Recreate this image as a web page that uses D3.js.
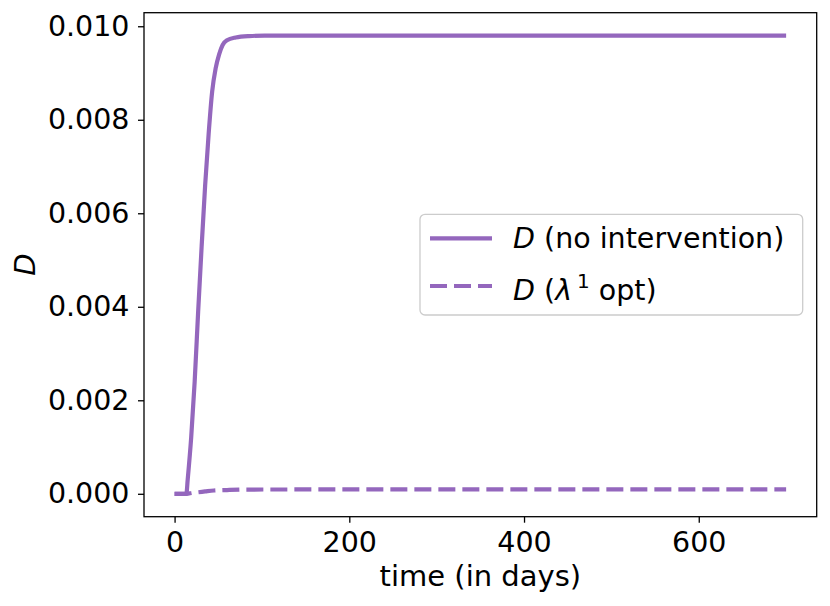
<!DOCTYPE html>
<html>
<head>
<meta charset="utf-8">
<script src="https://cdn.jsdelivr.net/npm/d3@7"></script>
<style>
  body { margin: 0; background: #fff; }
  text { font-family: "DejaVu Sans", sans-serif; fill: #000; }
</style>
</head>
<body>
<div id="chart"></div>
<script>
// values
const tNoInt = [0, 13.5, 15, 19, 23, 27, 31, 35, 39, 43, 47, 51, 55, 60, 70, 85, 103, 150, 300, 500, 700];
const dNoInt = [0, 0, 0.0003, 0.0012, 0.0024, 0.0039, 0.0053, 0.0066, 0.0077, 0.0086, 0.0091, 0.0094, 0.0096, 0.0097, 0.00976, 0.00979, 0.0098, 0.0098, 0.0098, 0.0098, 0.0098];

const tOpt = [0, 14, 20, 26, 35, 45, 60, 80, 120, 200, 400, 700];
const dOpt = [0, 0, 0.00002, 0.00003, 0.00005, 0.00007, 0.00008, 0.00009, 0.000092, 0.000093, 0.000093, 0.000093];

const xTicks = [0, 200, 400, 600];
const yTicks = [0, 0.002, 0.004, 0.006, 0.008, 0.010];

const W = 830, H = 606;
const plotL = 144, plotR = 816.7, plotT = 12.7, plotB = 516.7;
const purple = "#9467bd";

const svg = d3.select("#chart")
  .append("svg")
  .attr("width", W)
  .attr("height", H);

const x = d3.scaleLinear()
  .domain([-35, 735])
  .range([plotL, plotR]);

const y = d3.scaleLinear()
  .domain([-0.00049, 0.01029])
  .range([plotB, plotT]);

const line = d3.line()
  .x(d => x(d[0]))
  .y(d => y(d[1]))
  .curve(d3.curveMonotoneX);

svg.append("path")
  .datum(d3.zip(tNoInt, dNoInt))
  .attr("d", line)
  .attr("fill", "none")
  .attr("stroke", purple)
  .attr("stroke-width", 4.2);

svg.append("path")
  .datum(d3.zip(tOpt, dOpt))
  .attr("d", line)
  .attr("fill", "none")
  .attr("stroke", purple)
  .attr("stroke-width", 4.2)
  .attr("stroke-dasharray", "17,7");

// axes
const xAxis = svg.append("g")
  .attr("transform", `translate(0, ${plotB})`)
  .call(d3.axisBottom(x).tickValues(xTicks).tickSize(6).tickPadding(9).tickFormat(d3.format("d")));
xAxis.select(".domain").remove();
xAxis.selectAll("line").attr("stroke-width", 1.3);
xAxis.selectAll("text")
  .style("font-size", "28.5px")
  .attr("font-family", "DejaVu Sans");

const yAxis = svg.append("g")
  .attr("transform", `translate(${plotL}, 0)`)
  .call(d3.axisLeft(y).tickValues(yTicks).tickSize(6).tickPadding(8.5).tickFormat(d3.format(".3f")));
yAxis.select(".domain").remove();
yAxis.selectAll("line").attr("stroke-width", 1.3);
yAxis.selectAll("text")
  .style("font-size", "28.5px")
  .attr("font-family", "DejaVu Sans");

// frame
svg.append("rect")
  .attr("x", plotL)
  .attr("y", plotT)
  .attr("width", plotR - plotL)
  .attr("height", plotB - plotT)
  .attr("fill", "none")
  .attr("stroke", "#000")
  .attr("stroke-width", 1.3);

// axis labels
svg.append("text")
  .attr("x", (plotL + plotR) / 2)
  .attr("y", 586)
  .attr("text-anchor", "middle")
  .style("font-size", "29px")
  .text("time (in days)");

svg.append("text")
  .attr("transform", `translate(35, ${(plotT + plotB) / 2}) rotate(-90)`)
  .attr("text-anchor", "middle")
  .style("font-size", "29px")
  .style("font-style", "italic")
  .text("D");

// legend
const lg = svg.append("g");
lg.append("rect")
  .attr("x", 420)
  .attr("y", 214.3)
  .attr("width", 382.7)
  .attr("height", 100.7)
  .attr("rx", 5)
  .attr("fill", "#fff")
  .attr("fill-opacity", 0.8)
  .attr("stroke", "#cccccc")
  .attr("stroke-width", 1.3);

lg.append("line")
  .attr("x1", 430).attr("x2", 492)
  .attr("y1", 238.3).attr("y2", 238.3)
  .attr("stroke", purple)
  .attr("stroke-width", 4.2);

lg.append("line")
  .attr("x1", 430).attr("x2", 492)
  .attr("y1", 286).attr("y2", 286)
  .attr("stroke", purple)
  .attr("stroke-width", 4.2)
  .attr("stroke-dasharray", "17,7");

const t1 = lg.append("text")
  .attr("x", 513)
  .attr("y", 247.5)
  .style("font-size", "28.5px");
t1.append("tspan").style("font-style", "italic").text("D");
t1.append("tspan").text(" (no intervention)");

const t2 = lg.append("text")
  .attr("x", 513)
  .attr("y", 300)
  .style("font-size", "28.5px");
t2.append("tspan").style("font-style", "italic").text("D");
t2.append("tspan").text(" (");
t2.append("tspan").style("font-style", "italic").text("λ");
t2.append("tspan").attr("dx", 5).attr("dy", -12).style("font-size", "20px").text("1");
t2.append("tspan").attr("dy", 12).text(" opt)");
</script>
</body>
</html>
